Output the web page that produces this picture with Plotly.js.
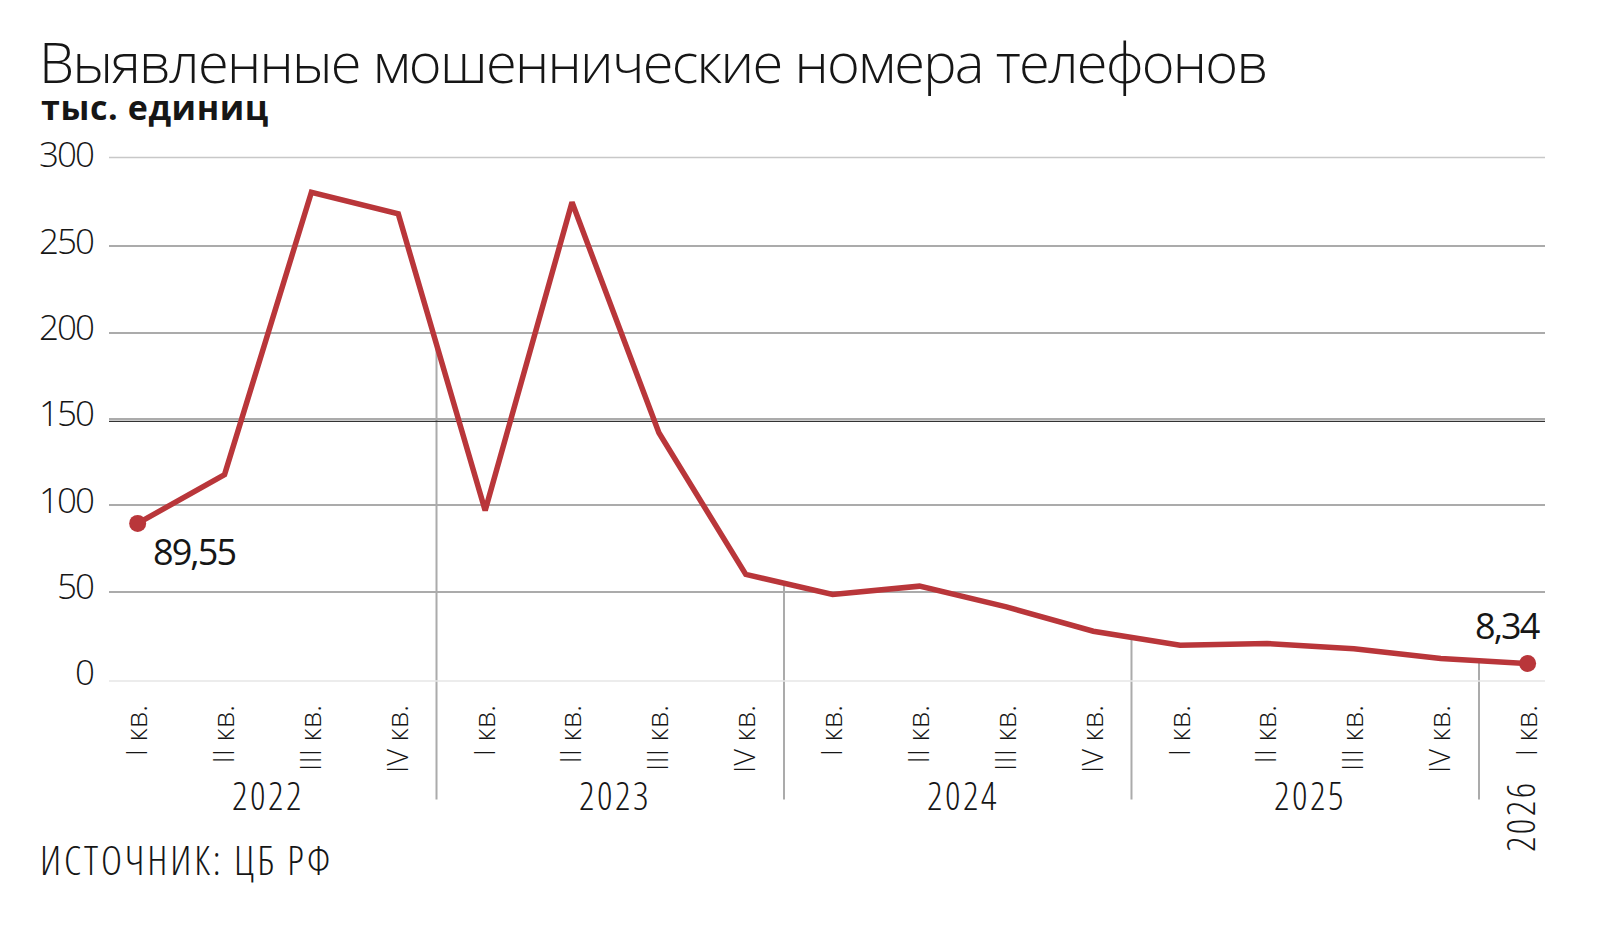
<!DOCTYPE html>
<html>
<head>
<meta charset="utf-8">
<script src="https://cdn.plot.ly/plotly-3.0.1.min.js"></script>
<style>
  html, body { margin: 0; padding: 0; background: #ffffff; }
  #chart { width: 1600px; height: 926px; }
</style>
</head>
<body>
<div id="chart"></div>
<script>
// ---- data ----
const quarters = ['I кв.', 'II кв.', 'III кв.', 'IV кв.',
                  'I кв.', 'II кв.', 'III кв.', 'IV кв.',
                  'I кв.', 'II кв.', 'III кв.', 'IV кв.',
                  'I кв.', 'II кв.', 'III кв.', 'IV кв.',
                  'I кв.'];
const quarterYears = ['2022', '2022', '2022', '2022',
                      '2023', '2023', '2023', '2023',
                      '2024', '2024', '2024', '2024',
                      '2025', '2025', '2025', '2025',
                      '2026'];
const years = ['2022', '2023', '2024', '2025', '2026'];
const values = [89.55, 117.8, 281.3, 268.8, 97.0, 275.5, 142.0, 60.0,
                48.4, 53.2, 41.2, 27.1, 19.0, 20.0, 16.9, 11.3, 8.34];
const yTicks = [0, 50, 100, 150, 200, 250, 300];

const titleText = 'Выявленные мошеннические номера телефонов';
const unitText = 'тыс. единиц';
const sourceText = 'ИСТОЧНИК: ЦБ РФ';

// ---- layout geometry ----
const W = 1600, H = 926;
const ML = 109, MR = 55, MT = 160, MB = 247.6;
const PW = W - ML - MR, PH = H - MT - MB;
const YMAX = 300;
const px = x => (x - ML) / PW;           // pixel -> paper x
const py = y => (H - MB - y) / PH;       // pixel -> paper y

const RED = '#b9363a';
const GRID = '#ababab';
const TXT = '#161616';
const FONT = '"Open Sans", "Noto Sans", sans-serif';

const fmt = v => v.toFixed(2).replace('.', ',');
const last = values.length - 1;

// ---- typographic tuning (width / spacing) ----
const sel = t => 'text[data-unformatted="' + t + '"]';
let css = 'svg text { font-stretch: 100%; }\n' +
  '.ytick text { letter-spacing: -2px; }\n' +
  sel(titleText) + ' { letter-spacing: -1.7px; }\n' +
  sel(unitText) + ' { letter-spacing: 0.6px; }\n' +
  sel(sourceText) + ' { font-stretch: 75%; letter-spacing: 2.9px; }\n' +
  sel(fmt(values[0])) + ', ' + sel(fmt(values[last])) + ' { letter-spacing: -1.9px; }\n';
years.forEach(y => { css += sel(y) + ' { font-stretch: 75%; letter-spacing: 2.5px; }\n'; });
const st = document.createElement('style');
st.textContent = css;
document.head.appendChild(st);

const idx = quarters.map((q, i) => i);

const lineTrace = {
  type: 'scatter', mode: 'lines',
  x: idx, y: values,
  line: { color: RED, width: 5.5 },
  hoverinfo: 'skip', cliponaxis: false
};
const dotTrace = {
  type: 'scatter', mode: 'markers',
  x: [0, last], y: [values[0], values[last]],
  marker: { color: RED, size: 17 },
  hoverinfo: 'skip', cliponaxis: false
};

const annotations = [];
// title and subtitle
annotations.push({ xref: 'paper', yref: 'paper', x: px(37), y: py(61), xanchor: 'left', yanchor: 'middle',
  text: titleText, showarrow: false, font: { family: FONT, size: 56, weight: 300, color: TXT } });
annotations.push({ xref: 'paper', yref: 'paper', x: px(39), y: py(107), xanchor: 'left', yanchor: 'middle',
  text: unitText, showarrow: false, font: { family: FONT, size: 34, weight: 700, color: TXT } });
annotations.push({ xref: 'paper', yref: 'paper', x: px(38), y: py(860), xanchor: 'left', yanchor: 'middle',
  text: sourceText, showarrow: false, font: { family: FONT, size: 40, weight: 300, color: TXT } });

// year labels
years.forEach(yr => {
  const ii = idx.filter(i => quarterYears[i] === yr);
  const cx = ii.reduce((a, b) => a + b, 0) / ii.length;
  if (ii.length > 1) {
    annotations.push({ xref: 'x', yref: 'paper', x: cx, y: py(795.5), xanchor: 'center', yanchor: 'middle',
      text: yr, showarrow: false, font: { family: FONT, size: 38, weight: 300, color: TXT } });
  } else {
    annotations.push({ xref: 'x', yref: 'paper', x: cx, y: py(817), xanchor: 'center', yanchor: 'middle',
      xshift: -7, textangle: -90,
      text: yr, showarrow: false, font: { family: FONT, size: 38, weight: 300, color: TXT } });
  }
});

// value labels at first and last point
annotations.push({ xref: 'x', yref: 'y', x: 0, y: values[0], xanchor: 'center', yanchor: 'middle',
  xshift: 56, yshift: -28, text: fmt(values[0]), showarrow: false,
  font: { family: FONT, size: 36, weight: 500, color: TXT } });
annotations.push({ xref: 'x', yref: 'y', x: last, y: values[last], xanchor: 'center', yanchor: 'middle',
  xshift: -20, yshift: 38, text: fmt(values[last]), showarrow: false,
  font: { family: FONT, size: 36, weight: 500, color: TXT } });

// year separators: from the line down below the axis labels
const shapes = [];
for (let i = 0; i < last; i++) {
  if (quarterYears[i] !== quarterYears[i + 1]) {
    const f = 0.44;
    const xs = i + f;
    const ys = values[i] + (values[i + 1] - values[i]) * f;
    shapes.push({ type: 'line', layer: 'below', xref: 'x', yref: 'paper',
      x0: xs, x1: xs, y0: ys / YMAX, y1: py(800),
      line: { color: GRID, width: 2 } });
  }
}
// double rules at 300 and 150, faint rule under 0
shapes.push({ type: 'line', layer: 'below', xref: 'paper', yref: 'paper', x0: 0, x1: 1,
  y0: py(157.5), y1: py(157.5), line: { color: '#c8c8c8', width: 1.5 } });
shapes.push({ type: 'line', layer: 'below', xref: 'paper', yref: 'paper', x0: 0, x1: 1,
  y0: 150 / YMAX + (-2.3 / PH), y1: 150 / YMAX + (-2.3 / PH), line: { color: '#333333', width: 1.2 } });
shapes.push({ type: 'line', layer: 'below', xref: 'paper', yref: 'paper', x0: 0, x1: 1,
  y0: -3 / PH, y1: -3 / PH, line: { color: '#e6e6e6', width: 1.5 } });

const layout = {
  width: W, height: H,
  margin: { l: ML, r: MR, t: MT, b: MB, pad: 0 },
  paper_bgcolor: '#ffffff', plot_bgcolor: '#ffffff',
  showlegend: false,
  font: { family: FONT, color: TXT },
  xaxis: {
    range: [-0.33, 16.2], tickmode: 'array', tickvals: idx, ticktext: quarters,
    tickangle: -90, showgrid: false, zeroline: false, showline: false, ticks: '',
    ticklabelstandoff: 20, automargin: false,
    tickfont: { family: FONT, size: 29, weight: 300, color: TXT }
  },
  yaxis: {
    range: [0, YMAX], tickmode: 'array', tickvals: yTicks, ticktext: yTicks.map(String),
    showgrid: true, gridcolor: GRID, gridwidth: 2, zeroline: false, showline: false, ticks: '',
    ticklabelstandoff: 15, ticklabelshift: -5, automargin: false,
    tickfont: { family: FONT, size: 35, weight: 300, color: TXT }
  },
  annotations: annotations,
  shapes: shapes
};

Plotly.newPlot('chart', [lineTrace, dotTrace], layout, { staticPlot: true, displayModeBar: false });
</script>
</body>
</html>
